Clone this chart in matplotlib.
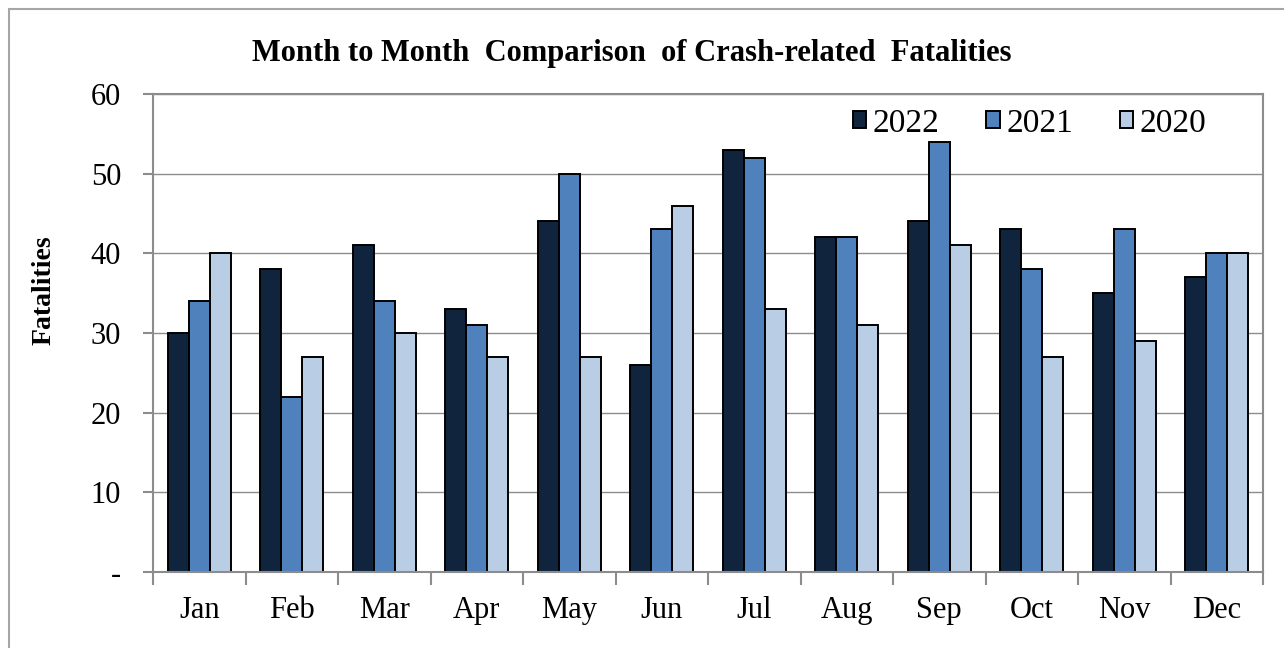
import matplotlib.pyplot as plt
import numpy as np
from matplotlib.patches import Rectangle

months = ["Jan", "Feb", "Mar", "Apr", "May", "Jun", "Jul", "Aug", "Sep", "Oct", "Nov", "Dec"]
y2022 = [30, 38, 41, 33, 44, 26, 53, 42, 44, 43, 35, 37]
y2021 = [34, 22, 34, 31, 50, 43, 52, 42, 54, 38, 43, 40]
y2020 = [40, 27, 30, 27, 27, 46, 33, 31, 41, 27, 29, 40]
yticks = [0, 10, 20, 30, 40, 50, 60]
ytick_labels = ["-", "10", "20", "30", "40", "50", "60"]

plt.rcParams["font.family"] = ["Liberation Serif", "DejaVu Serif"]

fig = plt.figure(figsize=(12.84, 6.48), dpi=100)
ax = fig.add_axes([153 / 1284, 1 - 572 / 648, 1110 / 1284, 478 / 648])

# outer chart border (partly off the picture, like the reference)
fig.patches.append(Rectangle((9 / 1284, -0.05), 1.2, 1 - 9 / 648 + 0.05,
                             transform=fig.transFigure, fill=False,
                             edgecolor="#a6a6a6", linewidth=1.5))

x = np.arange(len(months))
w = 0.227
colors = ["#10243e", "#4f81bd", "#b9cde5"]
for i, (vals, lab) in enumerate([(y2022, "2022"), (y2021, "2021"), (y2020, "2020")]):
    ax.bar(x + (i - 1) * w, vals, w, color=colors[i], edgecolor="black",
           linewidth=1.4, label=lab)

ax.set_xlim(-0.5, len(months) - 0.5)
ax.set_ylim(0, 60)
ax.set_yticks(yticks)
ax.set_yticklabels(ytick_labels)
ax.set_xticks(x)
ax.set_xticklabels(months)
ax.set_xticks(np.arange(len(months) + 1) - 0.5, minor=True)
ax.tick_params(axis="x", which="major", length=0, pad=17, labelsize=22)
ax.tick_params(axis="x", which="minor", length=9, width=1.5, color="#8c8c8c")
ax.tick_params(axis="y", length=7, width=1.5, color="#8c8c8c", labelsize=22, pad=16)

ax.yaxis.grid(True, color="#8c8c8c", linewidth=1)
ax.set_axisbelow(True)
for s in ax.spines.values():
    s.set_color("#8c8c8c")
    s.set_linewidth(1.5)

ax.set_ylabel("Fatalities", fontsize=20, fontweight="bold")
ax.yaxis.set_label_coords(-0.087, 0.59)
fig.text(0.492, 1 - 53 / 648, "Month to Month  Comparison  of Crash-related  Fatalities",
         ha="center", va="center", fontsize=22, fontweight="bold")

ax.legend(loc="upper right", ncol=3, frameon=False, fontsize=24,
          bbox_to_anchor=(0.976, 1.033), handlelength=0.4, handleheight=0.4,
          handletextpad=0.2, columnspacing=1.4)

fig.savefig("out.png", dpi=100)
